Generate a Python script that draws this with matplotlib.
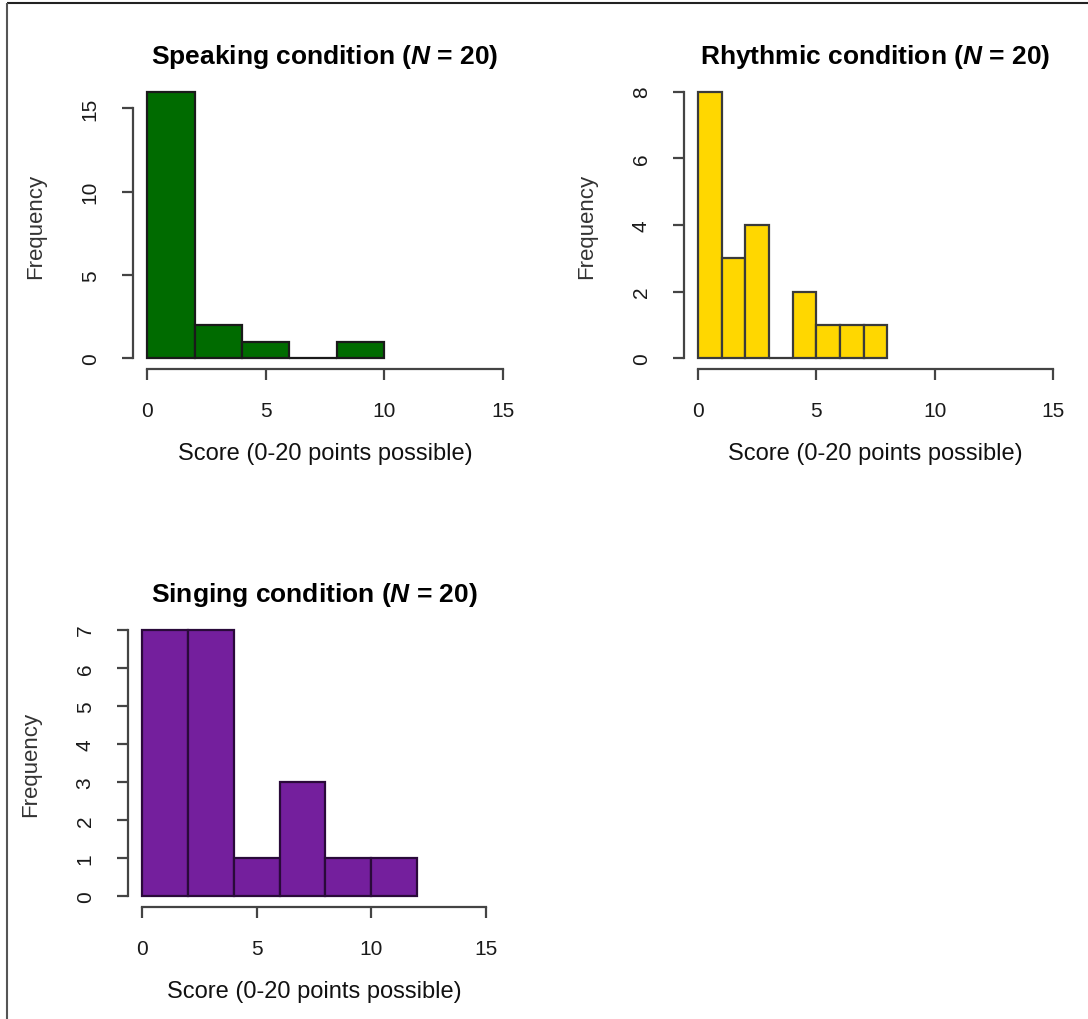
import matplotlib
matplotlib.use("Agg")
import matplotlib.pyplot as plt
from matplotlib.lines import Line2D

plt.rcParams['font.family'] = ['Liberation Sans', 'DejaVu Sans']
plt.rcParams['mathtext.fontset'] = 'custom'
plt.rcParams['mathtext.it'] = 'Liberation Sans:italic:bold'
plt.rcParams['mathtext.rm'] = 'Liberation Sans:bold'

# Histogram data: bin edges and counts per condition
speaking_edges = [0, 2, 4, 6, 8, 10]
speaking_counts = [16, 2, 1, 0, 1]

rhythmic_edges = [0, 1, 2, 3, 4, 5, 6, 7, 8]
rhythmic_counts = [8, 3, 4, 0, 2, 1, 1, 1]

singing_edges = [0, 2, 4, 6, 8, 10, 12]
singing_counts = [7, 7, 1, 3, 1, 1]

titles = ["Speaking condition ($\\mathit{N}$ = 20)",
          "Rhythmic condition ($\\mathit{N}$ = 20)",
          "Singing condition ($\\mathit{N}$ = 20)"]
x_ticks = [0, 5, 10, 15]
speaking_yticks = [0, 5, 10, 15]
rhythmic_yticks = [0, 2, 4, 6, 8]
singing_yticks = [0, 1, 2, 3, 4, 5, 6, 7]
xlabel = "Score (0-20 points possible)"
ylabel = "Frequency"

W, H = 1088, 1020
fig = plt.figure(figsize=(W / 100, H / 100), dpi=100)


def px_axes(x0, y0, x1, y1):
    return fig.add_axes([x0 / W, 1 - y1 / H, (x1 - x0) / W, (y1 - y0) / H])


def draw_hist(ax, edges, counts, color, edgecolor, yticks, title):
    lefts = edges[:-1]
    widths = [b - a for a, b in zip(edges[:-1], edges[1:])]
    ax.bar(lefts, counts, width=widths, align='edge', color=color,
           edgecolor=edgecolor, linewidth=1.6)
    ymax = max(counts)
    ax.set_xlim(-0.6, 15.6)
    ax.set_ylim(-0.04 * ymax, 1.04 * ymax)
    for s in ('top', 'right'):
        ax.spines[s].set_visible(False)
    ax.spines['left'].set_bounds(yticks[0], yticks[-1])
    ax.spines['bottom'].set_bounds(x_ticks[0], x_ticks[-1])
    for s in ('left', 'bottom'):
        ax.spines[s].set_color('#444444')
        ax.spines[s].set_linewidth(1.6)
    ax.set_xticks(x_ticks)
    ax.set_yticks(yticks)
    ax.tick_params(axis='both', direction='out', length=8, width=1.6,
                   color='#444444', labelsize=15, labelcolor='#1a1a1a')
    ax.tick_params(axis='x', pad=15)
    ax.tick_params(axis='y', pad=16)
    for lab in ax.get_yticklabels():
        lab.set_rotation(90)
        lab.set_va('center')
    ax.set_title(title, fontsize=19, fontweight='bold', pad=13)
    ax.set_xlabel(xlabel, fontsize=17, labelpad=16, color='#111111')
    ax.set_ylabel(ylabel, fontsize=16, labelpad=25, color='#333333')


ax1 = px_axes(133, 82, 517, 370)
draw_hist(ax1, speaking_edges, speaking_counts, '#006B00', '#1a1a1a',
          speaking_yticks, titles[0])

ax2 = px_axes(684, 82, 1067, 370)
draw_hist(ax2, rhythmic_edges, rhythmic_counts, '#FFD700', '#3a3a3a',
          rhythmic_yticks, titles[1])

ax3 = px_axes(128, 620, 500, 908)
draw_hist(ax3, singing_edges, singing_counts, '#741F9D', '#2a0a3a',
          singing_yticks, titles[2])

# Frame lines along the top and left edges
fig.add_artist(Line2D([7 / W, 1.0], [1 - 4 / H, 1 - 4 / H],
                      transform=fig.transFigure, color='#222222', lw=1.5,
                      solid_capstyle='butt'))
fig.add_artist(Line2D([7 / W, 7 / W], [1 - 4 / H, 0.0],
                      transform=fig.transFigure, color='#555555', lw=1.5,
                      solid_capstyle='butt'))

fig.savefig("out.png", dpi=100)
